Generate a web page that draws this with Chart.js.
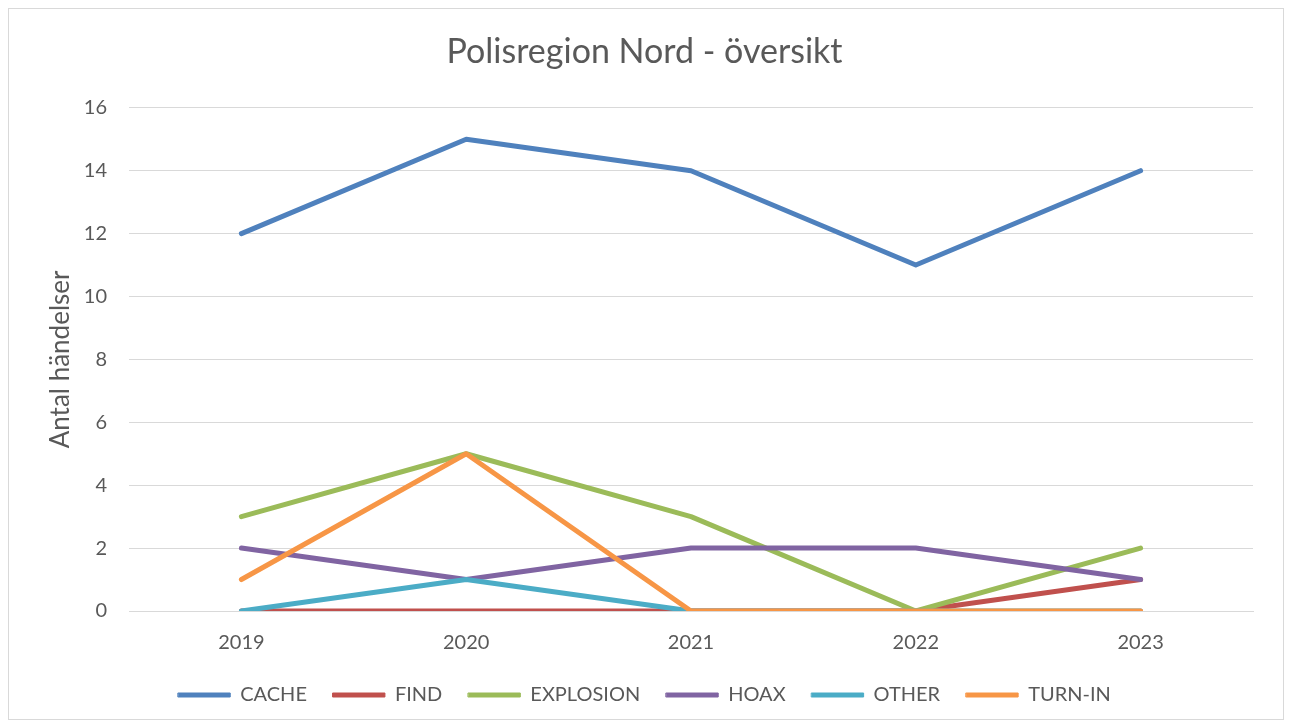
<!DOCTYPE html>
<html>
<head>
<meta charset="utf-8">
<script src="https://cdn.jsdelivr.net/npm/chart.js@4/dist/chart.umd.min.js"></script>
<style>
html,body{margin:0;padding:0;background:#fff;}
#wrap{width:1289px;height:726px;position:relative;}
</style>
</head>
<body>
<div id="wrap"><canvas id="c" width="1289" height="726"></canvas></div>
<script>
const years = ['2019','2020','2021','2022','2023'];
const cache = [12,15,14,11,14];
const find = [0,0,0,0,1];
const explosion = [3,5,3,0,2];
const hoax = [2,1,2,2,1];
const other = [0,1,0,0,0];
const turnIn = [1,5,0,0,0];
const seriesNames = ['CACHE','FIND','EXPLOSION','HOAX','OTHER','TURN-IN'];
const seriesData = [cache, find, explosion, hoax, other, turnIn];
const seriesColors = ['#4F81BD','#C0504D','#9BBB59','#8064A2','#4BACC6','#F79646'];

const FONT = 'Lato, "Open Sans", sans-serif';
const TXT = '#595959';

const bgPlugin = {
  id: 'bg',
  beforeDraw(chart){
    const ctx = chart.ctx;
    ctx.save();
    ctx.fillStyle = '#fff';
    ctx.fillRect(0,0,chart.width,chart.height);
    ctx.strokeStyle = '#d9d9d9';
    ctx.lineWidth = 1;
    ctx.strokeRect(8.5,8.5,1275,711);
    ctx.restore();
  }
};

const datasets = seriesNames.map((n,i)=>({
  label: n,
  data: seriesData[i],
  borderColor: seriesColors[i],
  backgroundColor: seriesColors[i],
  borderWidth: 5,
  pointRadius: 0,
  pointHoverRadius: 0,
  tension: 0,
  borderCapStyle: 'round',
  borderJoinStyle: 'round',
  fill: false,
  order: seriesNames.length - i
}));

new Chart(document.getElementById('c'), {
  type: 'line',
  data: { labels: years, datasets },
  plugins: [bgPlugin],
  options: {
    responsive: false,
    animation: false,
    devicePixelRatio: 1,
    layout: { padding: { left: 36, right: 36, top: 0, bottom: 11 } },
    plugins: {
      tooltip: { enabled: false },
      title: {
        display: true,
        text: 'Polisregion Nord - översikt',
        color: TXT,
        font: { family: FONT, size: 34, weight: 'normal' },
        padding: { top: 32, bottom: 35 }
      },
      legend: {
        position: 'bottom',
        labels: {
          color: TXT,
          font: { family: FONT, size: 20 },
          boxWidth: 52,
          boxHeight: 4,
          padding: 26,
          sort: (a,b)=>a.datasetIndex-b.datasetIndex,
          generateLabels(chart){
            const items = Chart.defaults.plugins.legend.labels.generateLabels(chart);
            items.forEach(it=>{ it.lineWidth = 1; });
            return items;
          }
        }
      }
    },
    scales: {
      x: {
        offset: true,
        grid: { display: false, drawTicks: false },
        border: { display: true, color: '#d9d9d9', width: 1 },
        ticks: { color: TXT, font: { family: FONT, size: 20 }, padding: 20 },
        afterFit(s){ s.height = 48; }
      },
      y: {
        min: 0, max: 16,
        ticks: { stepSize: 2, color: TXT, font: { family: FONT, size: 20 }, padding: 22 },
        grid: { color: '#d9d9d9', lineWidth: 1, drawTicks: false },
        border: { display: false },
        title: { display: true, text: 'Antal händelser', color: TXT, font: { family: FONT, size: 26 }, padding: { top: 9, bottom: 0 } },
        afterFit(s){ s.width = 93; }
      }
    }
  }
});
</script>
</body>
</html>
